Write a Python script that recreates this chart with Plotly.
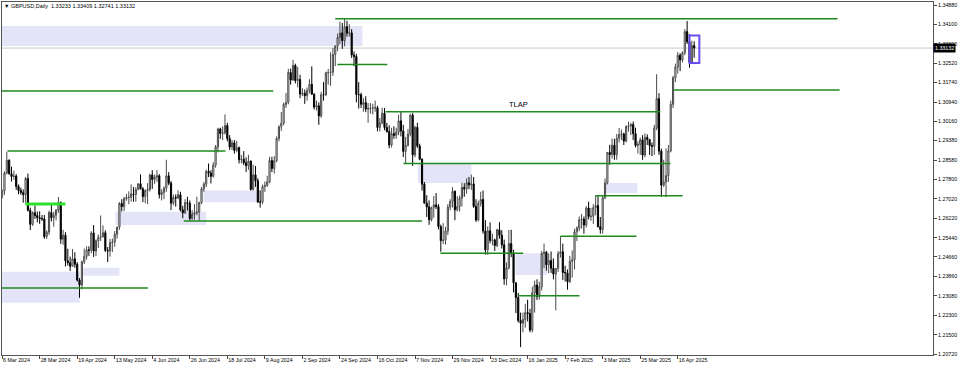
import plotly.graph_objects as go

# ---------------- data (GBPUSD daily) ----------------
# bar index 0 = 6 Mar 2024 ... index 295 = 25 Apr 2025 (trading days)
opens = [
 1.2712,1.2734,1.2806,
 1.2858,1.2803,1.2792,1.2794,1.2752,
 1.2735,1.2727,1.2718,1.2784,1.2655,
 1.2598,1.2645,1.2634,1.2625,1.2622,
 1.2620,1.2548,1.2566,1.2646,1.2625,
 1.2635,1.2656,1.2686,1.2538,1.2554,
 1.2450,1.2442,1.2428,1.2458,1.2436,
 1.2372,1.2352,1.2446,1.2468,1.2494,
 1.2493,1.2563,1.2490,1.2532,1.2546,
 1.2547,1.2564,1.2492,1.2490,1.2524,
 1.2526,1.2558,1.2587,1.2683,1.2670,
 1.2702,1.2707,1.2708,1.2721,1.2719,
 1.2739,1.2763,1.2742,1.2711,1.2735,
 1.2740,1.2798,1.2780,1.2790,1.2795,
 1.2719,1.2727,1.2745,1.2795,1.2765,
 1.2684,1.2707,1.2705,1.2718,1.2657,
 1.2645,1.2686,1.2684,1.2622,1.2639,
 1.2645,1.2648,1.2686,1.2742,1.2761,
 1.2813,1.2806,1.2793,1.2838,1.2912,
 1.2985,1.2967,1.2969,1.2999,1.2946,
 1.2912,1.2929,1.2898,1.2909,1.2860,
 1.2862,1.2848,1.2836,1.2854,1.2740,
 1.2799,1.2775,1.2689,1.2688,1.2751,
 1.2756,1.2770,1.2857,1.2825,1.2856,
 1.2946,1.2994,1.3008,1.3084,1.3093,
 1.3214,1.3184,1.3243,1.3181,1.3186,
 1.3127,1.3130,1.3120,1.3141,1.3166,
 1.3126,1.3074,1.3079,1.3038,1.3124,
 1.3123,1.3213,1.3214,1.3215,1.3287,
 1.3321,1.3356,1.3375,1.3343,1.3400,
 1.3374,1.3375,1.3285,1.3279,1.3125,
 1.3124,1.3085,1.3092,1.3066,1.3067,
 1.3070,1.3070,1.3071,1.2991,1.3010,
 1.3049,1.2991,1.2975,1.2920,1.2966,
 1.2959,1.2972,1.3018,1.2977,1.2894,
 1.2918,1.2964,1.3041,1.2880,1.2992,
 1.2916,1.2862,1.2761,1.2684,1.2669,
 1.2617,1.2666,1.2677,1.2670,1.2589,
 1.2532,1.2534,1.2571,1.2668,1.2691,
 1.2732,1.2657,1.2670,1.2704,1.2748,
 1.2741,1.2767,1.2758,1.2762,1.2671,
 1.2616,1.2683,1.2699,1.2571,1.2495,
 1.2572,1.2533,1.2535,1.2512,
 1.2576,1.2554,1.2515,1.2377,
 1.2421,1.2520,1.2480,1.2361,1.2301,
 1.2208,1.2197,1.2212,1.2240,1.2236,
 1.2169,1.2320,1.2352,1.2305,1.2345,
 1.2480,1.2485,1.2434,1.2451,1.2420,
 1.2396,1.2419,1.2479,1.2487,1.2403,
 1.2401,1.2365,1.2448,1.2455,1.2568,
 1.2583,1.2617,1.2619,1.2595,1.2664,
 1.2630,1.2631,1.2666,1.2674,1.2589,
 1.2577,1.2706,1.2766,1.2890,1.2881,
 1.2919,1.2880,1.2947,1.2962,1.2965,
 1.2936,1.2995,1.2997,1.3003,1.2966,
 1.2918,1.2922,1.2941,1.2879,1.2951,
 1.2942,1.2918,1.2915,1.2989,1.3108,
 1.2895,1.2757,1.2770,1.2796,1.2896,
 1.3085,1.3193,1.3236,1.3284,1.3265,
 1.3294,1.3380,1.3339,1.3256,1.33233]

highs = [
 1.2740,1.2813,1.2893,
 1.2862,1.2832,1.2816,1.2802,1.2760,
 1.2747,1.2740,1.2790,1.2804,1.2666,
 1.2651,1.2675,1.2650,1.2651,1.2636,
 1.2636,1.2574,1.2654,1.2682,1.2649,
 1.2660,1.2709,1.2691,1.2576,1.2566,
 1.2499,1.2467,1.2498,1.2485,1.2445,
 1.2380,1.2451,1.2500,1.2509,1.2509,
 1.2570,1.2595,1.2537,1.2557,1.2634,
 1.2594,1.2574,1.2506,1.2539,1.2540,
 1.2571,1.2588,1.2688,1.2700,1.2710,
 1.2721,1.2732,1.2760,1.2749,1.2749,
 1.2764,1.2801,1.2749,1.2740,1.2765,
 1.2804,1.2818,1.2800,1.2818,1.2802,
 1.2740,1.2752,1.2860,1.2810,1.2774,
 1.2719,1.2720,1.2736,1.2730,1.2673,
 1.2700,1.2710,1.2695,1.2656,1.2680,
 1.2710,1.2690,1.2750,1.2770,1.2820,
 1.2845,1.2818,1.2850,1.2920,1.2990,
 1.2990,1.2995,1.3044,1.3010,1.2960,
 1.2940,1.2940,1.2937,1.2914,1.2880,
 1.2895,1.2870,1.2880,1.2858,1.2840,
 1.2835,1.2785,1.2736,1.2759,1.2772,
 1.2795,1.2872,1.2872,1.2875,1.2955,
 1.3000,1.3054,1.3092,1.3131,1.3229,
 1.3230,1.3266,1.3250,1.3237,1.3205,
 1.3150,1.3145,1.3153,1.3187,1.3239,
 1.3130,1.3100,1.3093,1.3136,1.3175,
 1.3218,1.3229,1.3296,1.3314,1.3325,
 1.3372,1.3420,1.3415,1.3434,1.3424,
 1.3410,1.3390,1.3300,1.3290,1.3175,
 1.3132,1.3110,1.3118,1.3090,1.3090,
 1.3087,1.3100,1.3079,1.3030,1.3071,
 1.3070,1.3010,1.3000,1.2990,1.2996,
 1.2990,1.3043,1.3054,1.3002,1.2953,
 1.2985,1.3047,1.3050,1.2998,1.3010,
 1.2925,1.2866,1.2770,1.2716,1.2695,
 1.2670,1.2713,1.2725,1.2680,1.2597,
 1.2603,1.2588,1.2680,1.2700,1.2749,
 1.2736,1.2712,1.2715,1.2767,1.2765,
 1.2785,1.2790,1.2800,1.2790,1.2700,
 1.2694,1.2730,1.2735,1.2615,1.2590,
 1.2606,1.2560,1.2540,1.2580,
 1.2607,1.2574,1.2536,1.2444,
 1.2575,1.2576,1.2495,1.2362,1.2320,
 1.2240,1.2240,1.2275,1.2292,1.2255,
 1.2345,1.2370,1.2375,1.2365,1.2490,
 1.2520,1.2490,1.2480,1.2488,1.2460,
 1.2420,1.2490,1.2550,1.2520,1.2430,
 1.2415,1.2470,1.2492,1.2580,1.2590,
 1.2630,1.2640,1.2630,1.2672,1.2690,
 1.2665,1.2680,1.2715,1.2712,1.2628,
 1.2715,1.2784,1.2890,1.2921,1.2946,
 1.2945,1.2965,1.2989,1.2983,1.2970,
 1.3000,1.3015,1.3010,1.3015,1.2990,
 1.2935,1.2950,1.2960,1.2967,1.2963,
 1.2945,1.2930,1.3002,1.3207,1.3130,
 1.2905,1.2860,1.2906,1.2920,1.3100,
 1.3200,1.3250,1.3297,1.3292,1.3300,
 1.3390,1.3423,1.3370,1.3343,1.33409]

lows = [
 1.2702,1.2718,1.2801,
 1.2800,1.2772,1.2779,1.2738,1.2720,
 1.2718,1.2686,1.2685,1.2650,1.2575,
 1.2592,1.2620,1.2606,1.2600,1.2612,
 1.2539,1.2539,1.2555,1.2610,1.2588,
 1.2614,1.2645,1.2519,1.2515,1.2427,
 1.2431,1.2409,1.2426,1.2422,1.2366,
 1.2300,1.2334,1.2437,1.2455,1.2470,
 1.2481,1.2466,1.2469,1.2502,1.2530,
 1.2546,1.2486,1.2445,1.2467,1.2486,
 1.2507,1.2540,1.2576,1.2650,1.2652,
 1.2694,1.2680,1.2690,1.2690,1.2690,
 1.2737,1.2740,1.2688,1.2684,1.2680,
 1.2731,1.2742,1.2762,1.2770,1.2703,
 1.2695,1.2700,1.2730,1.2757,1.2656,
 1.2675,1.2670,1.2700,1.2650,1.2623,
 1.2640,1.2654,1.2614,1.2615,1.2617,
 1.2635,1.2612,1.2680,1.2730,1.2749,
 1.2790,1.2764,1.2788,1.2828,1.2890,
 1.2945,1.2940,1.2962,1.2935,1.2900,
 1.2900,1.2885,1.2890,1.2845,1.2845,
 1.2838,1.2810,1.2819,1.2735,1.2735,
 1.2750,1.2685,1.2666,1.2680,1.2730,
 1.2750,1.2765,1.2810,1.2804,1.2850,
 1.2935,1.2977,1.3000,1.3070,1.3085,
 1.3165,1.3180,1.3170,1.3154,1.3110,
 1.3118,1.3087,1.3100,1.3129,1.3125,
 1.3064,1.3060,1.3002,1.3030,1.3100,
 1.3120,1.3165,1.3160,1.3200,1.3240,
 1.3300,1.3330,1.3310,1.3320,1.3360,
 1.3360,1.3273,1.3240,1.3093,1.3068,
 1.3070,1.3055,1.3053,1.3010,1.3047,
 1.3044,1.3055,1.2975,1.2975,1.3004,
 1.2980,1.2970,1.2907,1.2910,1.2945,
 1.2945,1.2960,1.2955,1.2871,1.2844,
 1.2914,1.2955,1.2835,1.2870,1.2908,
 1.2858,1.2735,1.2683,1.2628,1.2596,
 1.2610,1.2625,1.2660,1.2578,1.2487,
 1.2518,1.2516,1.2555,1.2655,1.2666,
 1.2615,1.2650,1.2650,1.2670,1.2710,
 1.2722,1.2741,1.2738,1.2665,1.2608,
 1.2610,1.2670,1.2560,1.2475,1.2474,
 1.2521,1.2513,1.2490,1.2505,
 1.2540,1.2500,1.2353,1.2350,
 1.2415,1.2465,1.2322,1.2238,1.2200,
 1.2100,1.2160,1.2179,1.2204,1.2160,
 1.2160,1.2240,1.2291,1.2293,1.2330,
 1.2420,1.2410,1.2400,1.2401,1.2375,
 1.2249,1.2405,1.2463,1.2372,1.2366,
 1.2333,1.2360,1.2382,1.2415,1.2530,
 1.2570,1.2580,1.2560,1.2585,1.2618,
 1.2612,1.2600,1.2635,1.2585,1.2560,
 1.2560,1.2700,1.2760,1.2840,1.2865,
 1.2860,1.2860,1.2930,1.2940,1.2920,
 1.2930,1.2975,1.2960,1.2940,1.2910,
 1.2885,1.2880,1.2860,1.2870,1.2920,
 1.2880,1.2875,1.2880,1.2980,1.2880,
 1.2710,1.2750,1.2708,1.2770,1.2890,
 1.3070,1.3175,1.3210,1.3220,1.3255,
 1.3285,1.3330,1.3234,1.3250,1.32741]

closes = [
 1.2734,1.2806,1.2858,
 1.2803,1.2792,1.2794,1.2752,1.2735,
 1.2727,1.2718,1.2784,1.2655,1.2598,
 1.2645,1.2634,1.2625,1.2622,1.2620,
 1.2548,1.2566,1.2646,1.2625,1.2635,
 1.2656,1.2686,1.2538,1.2554,1.2450,
 1.2442,1.2428,1.2458,1.2436,1.2372,
 1.2352,1.2446,1.2468,1.2494,1.2493,
 1.2563,1.2490,1.2532,1.2546,1.2547,
 1.2564,1.2492,1.2490,1.2524,1.2526,
 1.2558,1.2587,1.2683,1.2670,1.2702,
 1.2707,1.2708,1.2721,1.2719,1.2739,
 1.2763,1.2742,1.2711,1.2735,1.2740,
 1.2798,1.2780,1.2790,1.2795,1.2719,
 1.2727,1.2745,1.2795,1.2765,1.2684,
 1.2707,1.2705,1.2718,1.2657,1.2645,
 1.2686,1.2684,1.2622,1.2639,1.2645,
 1.2648,1.2686,1.2742,1.2761,1.2813,
 1.2806,1.2793,1.2838,1.2912,1.2985,
 1.2967,1.2969,1.2999,1.2946,1.2912,
 1.2929,1.2898,1.2909,1.2860,1.2862,
 1.2848,1.2836,1.2854,1.2740,1.2799,
 1.2775,1.2689,1.2688,1.2751,1.2756,
 1.2770,1.2857,1.2825,1.2856,1.2946,
 1.2994,1.3008,1.3084,1.3093,1.3214,
 1.3184,1.3243,1.3181,1.3186,1.3127,
 1.3130,1.3120,1.3141,1.3166,1.3126,
 1.3074,1.3079,1.3038,1.3124,1.3123,
 1.3213,1.3214,1.3215,1.3287,1.3321,
 1.3356,1.3375,1.3343,1.3400,1.3374,
 1.3375,1.3285,1.3279,1.3125,1.3124,
 1.3085,1.3092,1.3066,1.3067,1.3070,
 1.3070,1.3071,1.2991,1.3010,1.3049,
 1.2991,1.2975,1.2920,1.2966,1.2959,
 1.2972,1.3018,1.2977,1.2894,1.2918,
 1.2964,1.3041,1.2880,1.2992,1.2916,
 1.2862,1.2761,1.2684,1.2669,1.2617,
 1.2666,1.2677,1.2670,1.2589,1.2532,
 1.2534,1.2571,1.2668,1.2691,1.2732,
 1.2657,1.2670,1.2704,1.2748,1.2741,
 1.2767,1.2758,1.2762,1.2671,1.2616,
 1.2683,1.2699,1.2571,1.2495,1.2572,
 1.2533,1.2535,1.2512,1.2576,
 1.2554,1.2515,1.2377,1.2421,
 1.2520,1.2480,1.2361,1.2301,1.2208,
 1.2197,1.2212,1.2240,1.2236,1.2169,
 1.2320,1.2352,1.2305,1.2345,1.2480,
 1.2485,1.2434,1.2451,1.2420,1.2396,
 1.2419,1.2479,1.2487,1.2403,1.2401,
 1.2365,1.2448,1.2455,1.2568,1.2583,
 1.2617,1.2619,1.2595,1.2664,1.2630,
 1.2631,1.2666,1.2674,1.2589,1.2577,
 1.2706,1.2766,1.2890,1.2881,1.2919,
 1.2880,1.2947,1.2962,1.2965,1.2936,
 1.2995,1.2997,1.3003,1.2966,1.2918,
 1.2922,1.2941,1.2879,1.2951,1.2942,
 1.2918,1.2915,1.2989,1.3108,1.2895,
 1.2757,1.2770,1.2796,1.2896,1.3085,
 1.3193,1.3236,1.3284,1.3265,1.3294,
 1.3380,1.3339,1.3256,1.3323,1.33132]

bars = list(range(len(closes)))

# date tick labels (every 16 bars)
tick_bars = [0, 16, 32, 48, 64, 80, 96, 112, 128, 144, 160, 176, 192, 208, 224, 240, 256, 272, 288]
tick_labels = ["6 Mar 2024", "28 Mar 2024", "19 Apr 2024", "13 May 2024", "4 Jun 2024",
               "26 Jun 2024", "18 Jul 2024", "9 Aug 2024", "2 Sep 2024", "24 Sep 2024",
               "16 Oct 2024", "7 Nov 2024", "29 Nov 2024", "23 Dec 2024", "16 Jan 2025",
               "7 Feb 2025", "3 Mar 2025", "25 Mar 2025", "16 Apr 2025"]

# price scale labels
price_ticks = [1.34880, 1.34100, 1.33300, 1.32520, 1.31740, 1.30940, 1.30160, 1.29380,
               1.28580, 1.27800, 1.27020, 1.26220, 1.25440, 1.24660, 1.23860, 1.23080,
               1.22300, 1.21500, 1.20720]

# horizontal level lines (start bar, end bar, price)
line_start = [142.0, 142.9, -2.0, 163.4, 286.2, 2.3, 171.1, 77.4, 186.8, 220.2, -2.0, 238.0, 252.9]
line_end   = [356.1, 164.2, 115.6, 280.6, 357.0, 95.2, 284.9, 179.0, 222.1, 246.1, 62.2, 270.4, 290.1]
line_price = [1.3432, 1.3247, 1.3139, 1.3055, 1.3143, 1.2896, 1.2845, 1.2612, 1.2481, 1.2308,
              1.2340, 1.2550, 1.2714]

# highlighted short level (bright green)
hl_start, hl_end, hl_price = 9.9, 27.0, 1.2681

# lavender zones (start bar, end bar, low, high)
box_start = [-2.0, -2.0, 34.5, 48.3, 85.9, 177.2, 256.7, 218.8]
box_end   = [153.6, 33.1, 50.0, 87.0, 108.7, 200.0, 270.8, 232.4]
box_low   = [1.3322, 1.2280, 1.2389, 1.2595, 1.2688, 1.2766, 1.2725, 1.2393]
box_high  = [1.3403, 1.2406, 1.2422, 1.2649, 1.2735, 1.2847, 1.2766, 1.2481]

# current bar marker box
mark_start, mark_end, mark_low, mark_high = 293.0, 297.2, 1.3253, 1.3364

tlap_bar, tlap_price = 220.0, 1.3055
current_price = closes[-1]
header = "▼ GBPUSD,Daily  %.5f %.5f %.5f %.5f" % (opens[-1], highs[-1], lows[-1], closes[-1])

# ---------------- figure ----------------
FONT = "Liberation Sans Narrow, Liberation Sans, Arial, sans-serif"
SMALL = 5.3

fig = go.Figure()
fig.add_trace(go.Candlestick(
    x=bars, open=opens, high=highs, low=lows, close=closes,
    increasing=dict(line=dict(color="#4a4a4a", width=1), fillcolor="#ffffff"),
    decreasing=dict(line=dict(color="#000000", width=1), fillcolor="#000000"),
    whiskerwidth=0, hoverinfo="skip", showlegend=False))

shapes = []
for x0, x1, lo, hi in zip(box_start, box_end, box_low, box_high):
    shapes.append(dict(type="rect", xref="x", yref="y", x0=x0, x1=x1, y0=lo, y1=hi,
                       fillcolor="#e4e4f8", line=dict(width=0), layer="below"))
shapes.append(dict(type="line", xref="paper", yref="y", x0=0, x1=1,
                   y0=current_price, y1=current_price,
                   line=dict(color="#c8c8c8", width=1), layer="below"))
for x0, x1, p in zip(line_start, line_end, line_price):
    shapes.append(dict(type="line", xref="x", yref="y", x0=x0, x1=x1, y0=p, y1=p,
                       line=dict(color="#1e8a1e", width=1.5), layer="above"))
shapes.append(dict(type="line", xref="x", yref="y", x0=hl_start, x1=hl_end,
                   y0=hl_price, y1=hl_price, line=dict(color="#2fe02f", width=3)))
shapes.append(dict(type="rect", xref="x", yref="y", x0=mark_start, x1=mark_end,
                   y0=mark_low, y1=mark_high, line=dict(color="#6a4cf0", width=2),
                   fillcolor="rgba(0,0,0,0)"))

annotations = [
    dict(xref="x", yref="y", x=tlap_bar, y=tlap_price, text="TLAP", showarrow=False,
         xanchor="center", yanchor="bottom", yshift=1,
         font=dict(family=FONT, size=7.5, color="#000000")),
    dict(xref="paper", yref="paper", x=0.0005, y=0.989, text=header, showarrow=False,
         xanchor="left", yanchor="middle",
         font=dict(family=FONT, size=5.5, color="#000000")),
    dict(xref="paper", yref="y", x=1.0, y=current_price, text="%.5f" % current_price,
         showarrow=False, xanchor="left", yanchor="middle", bgcolor="#000000",
         borderpad=1, font=dict(family=FONT, size=SMALL, color="#ffffff")),
]

fig.update_layout(
    width=960, height=368,
    margin=dict(l=2, r=27, t=2, b=13, autoexpand=False),
    paper_bgcolor="#ffffff", plot_bgcolor="#ffffff",
    shapes=shapes, annotations=annotations, showlegend=False,
    xaxis=dict(range=[-0.05, 396.80], tickmode="array", tickvals=tick_bars,
               ticktext=tick_labels, ticks="outside", ticklen=3, tickcolor="#444",
               ticklabelposition="outside right", tickangle=0, automargin=False,
               tickfont=dict(family=FONT, size=SMALL, color="#000"),
               showgrid=False, zeroline=False, showline=True, mirror=True,
               linecolor="#555", linewidth=1, rangeslider=dict(visible=False),
               fixedrange=True),
    yaxis=dict(side="right", range=[1.206793, 1.350017], tickmode="array",
               tickvals=price_ticks, ticktext=["%.5f" % v for v in price_ticks],
               ticks="outside", ticklen=3, tickcolor="#444", automargin=False,
               tickfont=dict(family=FONT, size=SMALL, color="#000"),
               showgrid=False, zeroline=False, showline=True, mirror=True,
               linecolor="#555", linewidth=1, fixedrange=True),
)

fig.write_html("out.html")
